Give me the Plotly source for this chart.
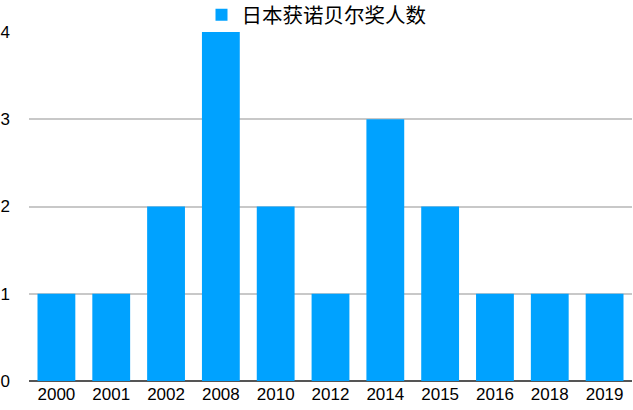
import plotly.graph_objects as go

years = ["2000", "2001", "2002", "2008", "2010", "2012", "2014", "2015", "2016", "2018", "2019"]
laureates = [1, 1, 2, 4, 2, 1, 3, 2, 1, 1, 1]
series_name = "日本获诺贝尔奖人数"
y_ticks = [0, 1, 2, 3, 4]

FONT = "Liberation Sans, Arial, Noto Sans CJK SC, sans-serif"

fig = go.Figure()
fig.add_trace(go.Bar(
    x=years, y=laureates, name=series_name,
    marker=dict(color="#00A2FF", line=dict(width=0)),
    showlegend=True,
))

fig.update_layout(
    width=633, height=410,
    margin=dict(l=29, r=1, t=32, b=29, autoexpand=False),
    paper_bgcolor="white", plot_bgcolor="white",
    bargap=0.31,
    font=dict(family=FONT, color="#000000"),
    showlegend=True,
    legend=dict(
        orientation="h", x=0.5, xanchor="center", xref="container",
        y=1.106, yanchor="top", yref="paper",
        font=dict(size=20.5, family="Noto Sans CJK SC, sans-serif"),
        bgcolor="rgba(0,0,0,0)", itemwidth=30,
    ),
    xaxis=dict(
        type="category", showgrid=False, ticks="", showline=False, automargin=False,
        tickfont=dict(size=17), ticklabelstandoff=1,
    ),
    yaxis=dict(
        range=[0, 4], tickvals=y_ticks, showgrid=True, gridcolor="#C8C8C8", gridwidth=1.5,
        zeroline=True, zerolinecolor="#555555", zerolinewidth=2, automargin=False,
        tickfont=dict(size=17), ticklabelstandoff=18, showline=False,
    ),
)

fig.write_html("out.html", config={"displayModeBar": False},
               post_script="document.body.style.margin='0';")
